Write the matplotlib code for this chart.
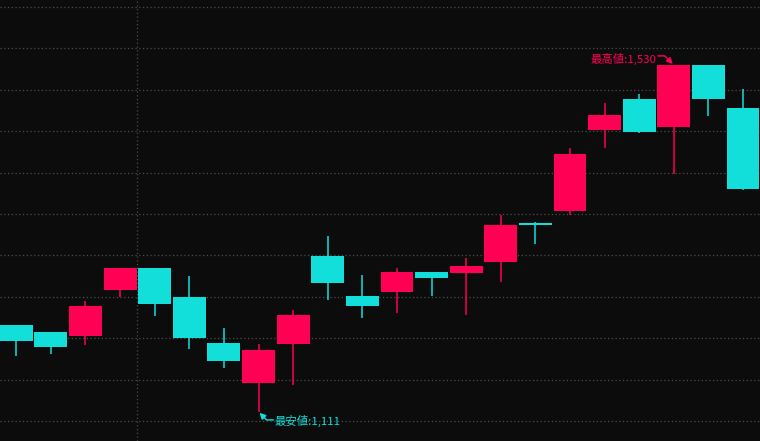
import numpy as np
import matplotlib
matplotlib.use("Agg")
import matplotlib.pyplot as plt

plt.rcParams['font.family'] = ['Noto Sans CJK JP', 'DejaVu Sans']

# --- datos OHLC ---
opens  = [1216, 1207, 1203, 1258, 1285, 1250, 1194, 1146, 1193, 1299, 1251,
          1256, 1280, 1279, 1292, 1339, 1354, 1451, 1489, 1455, 1530, 1478]
highs  = [1216, 1207, 1245, 1285, 1285, 1275, 1212, 1193, 1234, 1323, 1276,
          1285, 1280, 1297, 1349, 1340, 1430, 1484, 1495, 1530, 1530, 1501]
lows   = [1178, 1181, 1192, 1250, 1227, 1187, 1164, 1111, 1143, 1246, 1224,
          1230, 1251, 1228, 1268, 1314, 1349, 1430, 1448, 1398, 1468, 1379]
closes = [1197, 1189, 1239, 1285, 1241, 1200, 1172, 1186, 1228, 1267, 1239,
          1280, 1273, 1287, 1337, 1337, 1422, 1470, 1449, 1530, 1489, 1380]
grid_levels = [1100, 1150, 1200, 1250, 1300, 1350, 1400, 1450, 1500, 1550, 1600]
month_break = 3.5

UP = '#ff0055'
DOWN = '#12dfda'
BG = '#0c0c0c'

o = np.array(opens, dtype=float)
h = np.array(highs, dtype=float)
l = np.array(lows, dtype=float)
c = np.array(closes, dtype=float)
x = np.arange(len(o))
up = c >= o
cols = [UP if u else DOWN for u in up]

fig = plt.figure(figsize=(7.6, 4.41), dpi=100, facecolor=BG)
ax = fig.add_axes([0, 0, 1, 1], facecolor=BG)

# grilla punteada
for g in grid_levels:
    ax.axhline(g, color='#4d4d4d', lw=0.9, ls=(0, (1, 2)), zorder=0)
ax.axvline(month_break, color='#4d4d4d', lw=0.9, ls=(0, (1, 2)), zorder=0)

# mechas y cuerpos
ax.vlines(x, l, h, colors=cols, lw=1.1, zorder=2)
body_h = np.maximum(np.abs(c - o), 1.5)
ax.bar(x, body_h, bottom=np.minimum(o, c), width=0.95, color=cols,
       linewidth=0, zorder=3)

ax.set_xlim(-0.47, 21.49)
ax.set_ylim(1075.8, 1608.4)
ax.axis('off')

# --- anotaciones max / min ---
hi_i = int(np.argmax(h))
lo_i = int(np.argmin(l))

ax.annotate('', xy=(hi_i, h[hi_i]), xytext=(-11.5, 6.5), textcoords='offset points',
            xycoords='data',
            arrowprops=dict(arrowstyle='-|>,head_length=0.35,head_width=0.18',
                            color=UP, lw=1, shrinkA=0, shrinkB=1,
                            connectionstyle='angle,angleA=0,angleB=-45,rad=0'),
            zorder=5)
ax.annotate(f'最高値:{int(h[hi_i]):,}', xy=(hi_i, h[hi_i]), xytext=(-12.5, 4.3),
            textcoords='offset points', ha='right', va='center',
            color=UP, fontsize=8.2, zorder=5)

ax.annotate('', xy=(lo_i, l[lo_i]), xytext=(10.8, -5.8), textcoords='offset points',
            arrowprops=dict(arrowstyle='-|>,head_length=0.35,head_width=0.18',
                            color=DOWN, lw=1, shrinkA=0, shrinkB=1,
                            connectionstyle='angle,angleA=0,angleB=-45,rad=0'),
            zorder=5)
ax.annotate(f'最安値:{int(l[lo_i]):,}', xy=(lo_i, l[lo_i]), xytext=(11.5, -6.6),
            textcoords='offset points', ha='left', va='center',
            color=DOWN, fontsize=8.2, zorder=5)

fig.savefig('out.png', dpi=100, facecolor=BG)
